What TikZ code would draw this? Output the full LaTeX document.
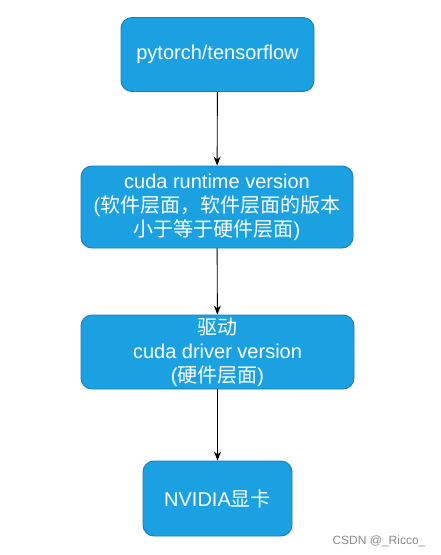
\documentclass[tikz,border=0pt]{standalone}
\usepackage{fontspec}
\setmainfont{Liberation Sans}
\newfontfamily\cjk{Noto Sans CJK SC}
\usetikzlibrary{arrows.meta, positioning}
\definecolor{dblue}{HTML}{1BA1E2}
\definecolor{dedge}{HTML}{1A7BB8}
\definecolor{wgray}{HTML}{8A8A8A}
\tikzset{
  bbox/.style={draw=dedge, fill=dblue, text=white, rounded corners=11pt,
               line width=0.9pt, align=center, inner sep=0pt,
               font=\fontsize{20}{24}\selectfont},
  arr/.style={-{Stealth[length=9pt,width=7pt]}, line width=0.9pt, black},
}

\begin{document}
\begin{tikzpicture}[x=1pt, y=-1pt]
  \useasboundingbox (0,0) rectangle (440,555);
  \node[bbox, minimum width=193pt, minimum height=74pt] (fw) at (217.5, 54.5) {pytorch/tensorflow};

  \node[bbox, minimum width=272pt, minimum height=82pt] (rt) at (217, 207)
    {cuda runtime version\\({\cjk 软件层面，软件层面的版本}\\{\cjk 小于等于硬件层面})};

  \node[bbox, minimum width=273pt, minimum height=74pt] (drv) at (217.5, 352)
    {{\cjk 驱动}\\cuda driver version\\({\cjk 硬件层面})};

  \node[bbox, minimum width=149pt, minimum height=75pt] (gpu) at (217.5, 498.5) {NVIDIA{\cjk 显卡}};

  \node[text=wgray, font=\fontsize{12}{14}\selectfont] (mark) at (379, 541) {CSDN @\_Ricco\_};

  \draw[arr] (fw) -- (rt);
  \draw[arr] (rt) -- (drv);
  \draw[arr] (drv) -- (gpu);
\end{tikzpicture}
\end{document}
